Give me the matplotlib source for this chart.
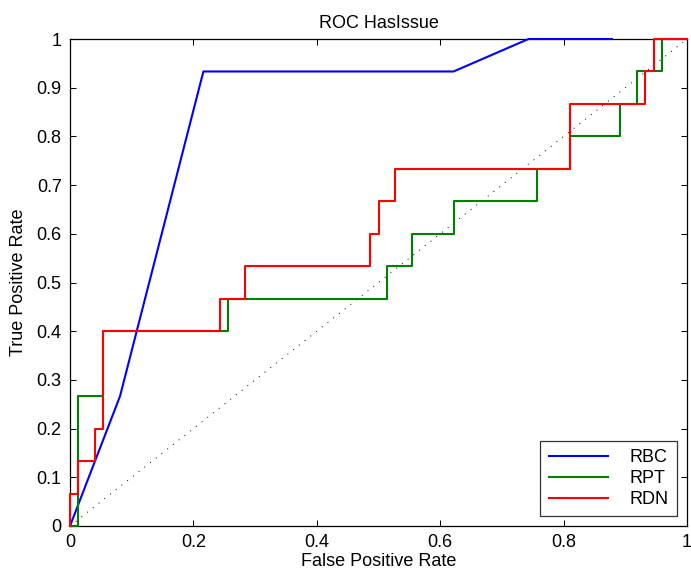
import matplotlib
matplotlib.use("Agg")
import matplotlib.pyplot as plt

plt.rcParams['font.family'] = ['Liberation Sans', 'DejaVu Sans']

# ROC corner points (FPR in steps of 1/74, TPR in steps of 1/15)
rbc_fpr = [0, 0.0811, 0.2162, 0.6216, 0.7432, 0.8784]
rbc_tpr = [0, 0.2667, 0.9333, 0.9333, 1.0, 1.0]

rpt_fpr = [0, 0.0135, 0.0135, 0.0541, 0.0541, 0.2568, 0.2568, 0.5135, 0.5135,
           0.5541, 0.5541, 0.6216, 0.6216, 0.7568, 0.7568, 0.8108, 0.8108,
           0.8919, 0.8919, 0.9189, 0.9189, 0.9595, 0.9595, 1.0]
rpt_tpr = [0, 0, 0.2667, 0.2667, 0.4, 0.4, 0.4667, 0.4667, 0.5333,
           0.5333, 0.6, 0.6, 0.6667, 0.6667, 0.7333, 0.7333, 0.8,
           0.8, 0.8667, 0.8667, 0.9333, 0.9333, 1.0, 1.0]

rdn_fpr = [0, 0, 0.0135, 0.0135, 0.0405, 0.0405, 0.0541, 0.0541, 0.2432, 0.2432,
           0.2838, 0.2838, 0.4865, 0.4865, 0.5, 0.5, 0.527, 0.527, 0.8108, 0.8108,
           0.9324, 0.9324, 0.9459, 0.9459, 1.0]
rdn_tpr = [0, 0.0667, 0.0667, 0.1333, 0.1333, 0.2, 0.2, 0.4, 0.4, 0.4667,
           0.4667, 0.5333, 0.5333, 0.6, 0.6, 0.6667, 0.6667, 0.7333, 0.7333, 0.8667,
           0.8667, 0.9333, 0.9333, 1.0, 1.0]

labels = ['RBC', 'RPT', 'RDN']

fig = plt.figure(figsize=(6.91, 5.80), dpi=100)
ax = fig.add_axes([70 / 691, 54 / 580, 617 / 691, 487 / 580])

# lines drawn over the frame, like matlab does
ax.plot(rbc_fpr, rbc_tpr, color=(0, 0, 1), lw=1.5, label=labels[0], clip_on=False, zorder=3)
ax.plot(rpt_fpr, rpt_tpr, color=(0, 0.5, 0), lw=1.5, label=labels[1], clip_on=False, zorder=3)
ax.plot(rdn_fpr, rdn_tpr, color=(1, 0, 0), lw=1.5, label=labels[2], clip_on=False, zorder=3)
# chance diagonal
ax.plot([0, 1], [0, 1], color='black', lw=0.7, linestyle=(0, (1, 6.5)))

ax.set_xlim(0, 1)
ax.set_ylim(0, 1)
ax.set_xticks([0, 0.2, 0.4, 0.6, 0.8, 1])
ax.set_xticklabels(['0', '0.2', '0.4', '0.6', '0.8', '1'])
ax.set_yticks([i / 10 for i in range(11)])
ax.set_yticklabels(['0'] + ['0.%d' % i for i in range(1, 10)] + ['1'])
ax.tick_params(direction='in', top=True, right=True, length=4, width=0.75,
               labelsize=13, pad=6)
for s in ax.spines.values():
    s.set_linewidth(0.9)

ax.set_title('ROC HasIssue', fontsize=13, pad=8)
ax.set_xlabel('False Positive Rate', fontsize=13, labelpad=1)
ax.set_ylabel('True Positive Rate', fontsize=13, labelpad=7)

leg = ax.legend(loc='lower right', fontsize=13, frameon=True, fancybox=False,
                borderaxespad=0.55, handlelength=3.3, handletextpad=1.2,
                labelspacing=0.22, borderpad=0.45)
leg.set_zorder(4)
leg.get_frame().set_edgecolor('black')
leg.get_frame().set_linewidth(0.9)
for h in leg.get_lines():
    h.set_linewidth(1.5)

fig.savefig('out.png', dpi=100)
